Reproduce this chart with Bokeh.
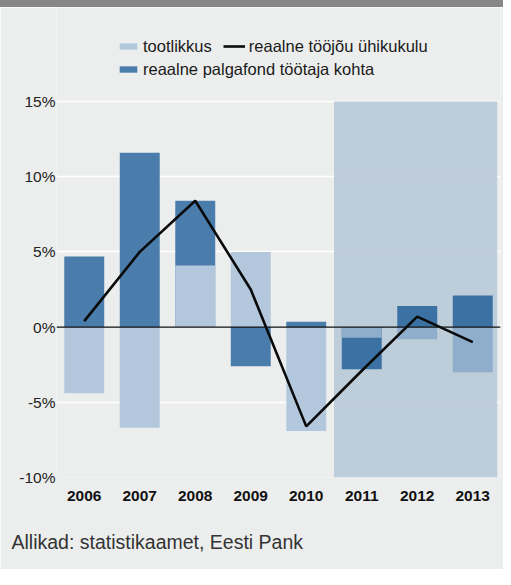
from bokeh.plotting import figure
from bokeh.layouts import column
from bokeh.models import (ColumnDataSource, Range1d, FixedTicker, PrintfTickFormatter,
                          Legend, LegendItem, Span, Title, Div)
from bokeh.embed import file_html
from bokeh.resources import INLINE

# ---- data ----
years = ["2006", "2007", "2008", "2009", "2010", "2011", "2012", "2013"]
tootlikkus = [-4.4, -6.7, 4.1, 5.0, -6.9, -0.7, -0.8, -3.0]
palgafond = [4.7, 11.6, 8.4, -2.6, 0.35, -2.8, 1.4, 2.1]
uhikukulu = [0.4, 5.0, 8.4, 2.5, -6.6, -2.9, 0.7, -1.0]
forecast_years = ["2011", "2012", "2013"]
y_ticks = [-10, -5, 0, 5, 10, 15]
source_text = "Allikad: statistikaamet, Eesti Pank"

BG = "#eceeed"
LIGHT = "#b3c8dd"
LIGHT_F = "#8eaecb"
DARK = "#4a7dac"
DARK_F = "#3b72a3"
FONT = "Liberation Sans"
W = 503

xs = [i + 0.5 for i in range(len(years))]
is_fc = [y in forecast_years for y in years]
src = ColumnDataSource(dict(
    x=xs, year=years, tootlikkus=tootlikkus, palgafond=palgafond, uhikukulu=uhikukulu,
    c_light=[LIGHT_F if f else LIGHT for f in is_fc],
    c_dark=[DARK_F if f else DARK for f in is_fc],
))

# thin dark band at the top
band = Div(text="", width=W, height=7, margin=(0, 0, 0, 0),
           styles={"background-color": "#878787"})

px_per_unit = 15.04
frame_h = 470
p = figure(width=W, height=562, output_backend="svg", toolbar_location=None,
           x_range=Range1d(0, len(years)),
           y_range=Range1d(y_ticks[0], y_ticks[0] + frame_h / px_per_unit),
           min_border_left=56, min_border_right=3, min_border_top=0, min_border_bottom=92)
p.background_fill_color = BG
p.border_fill_color = BG
p.outline_line_color = None

# forecast shading
first_fc = years.index(forecast_years[0])
p.quad(left=[first_fc], right=[len(years) - 0.06], bottom=[y_ticks[0]], top=[y_ticks[-1]],
       fill_color="#b8c9d6", fill_alpha=0.9, line_color=None)

r_dark = p.vbar(x="x", top="palgafond", width=0.72, bottom=0, source=src,
                fill_color="c_dark", line_color=None)
r_light = p.vbar(x="x", top="tootlikkus", width=0.72, bottom=0, source=src,
                 fill_color="c_light", line_color=None)

p.add_layout(Span(location=0, dimension="width", line_color="#111111", line_width=1.1))

r_line = p.line(x="x", y="uhikukulu", source=src, line_color="#0a0a0a", line_width=2.6)

# axes
p.xaxis.ticker = FixedTicker(ticks=xs)
p.xaxis.major_label_overrides = {x: y for x, y in zip(xs, years)}
p.xaxis.axis_line_color = None
p.xaxis.major_tick_line_color = None
p.xaxis.minor_tick_line_color = None
p.xaxis.major_tick_out = 0
p.xaxis.minor_tick_out = 0
p.xaxis.major_label_standoff = 13
p.xaxis.major_label_text_font = FONT
p.xaxis.major_label_text_font_style = "bold"
p.xaxis.major_label_text_font_size = "15.5px"
p.xaxis.major_label_text_color = "#111111"

p.yaxis.ticker = FixedTicker(ticks=y_ticks)
p.yaxis.formatter = PrintfTickFormatter(format="%d%%")
p.yaxis.axis_line_color = None
p.yaxis.major_tick_line_color = None
p.yaxis.minor_tick_line_color = None
p.yaxis.major_tick_out = 0
p.yaxis.minor_tick_out = 0
p.yaxis.major_label_standoff = 1
p.yaxis.major_label_text_font = FONT
p.yaxis.major_label_text_font_size = "15.5px"
p.yaxis.major_label_text_color = "#222222"

p.xgrid.grid_line_color = None
p.ygrid.ticker = FixedTicker(ticks=[t for t in y_ticks if t != 0])
p.ygrid.grid_line_color = "white"
p.ygrid.grid_line_width = 1.6

# legends
common = dict(orientation="horizontal", padding=0, margin=0, spacing=11,
              glyph_width=22, glyph_height=8, label_standoff=4, label_height=20,
              label_text_font=FONT, label_text_font_size="16.5px",
              label_text_color="#1a1a1a", background_fill_alpha=0,
              border_line_alpha=0)
leg1 = Legend(items=[LegendItem(label="tootlikkus", renderers=[r_light]),
                     LegendItem(label="reaalne tööjõu ühikukulu", renderers=[r_line])],
              location=(61, 421), **common)
leg2 = Legend(items=[LegendItem(label="reaalne palgafond töötaja kohta", renderers=[r_dark])],
              location=(61, 398), **common)
p.add_layout(leg1)
p.add_layout(leg2)

cap = Title(text="\n" + source_text, align="left", offset=-45, standoff=0,
            text_line_height=1.2, text_font=FONT, text_font_size="19.5px",
            text_font_style="normal", text_color="#333333")
p.add_layout(cap, "below")

open("out.html", "w").write(file_html(column(band, p, spacing=0), INLINE))
